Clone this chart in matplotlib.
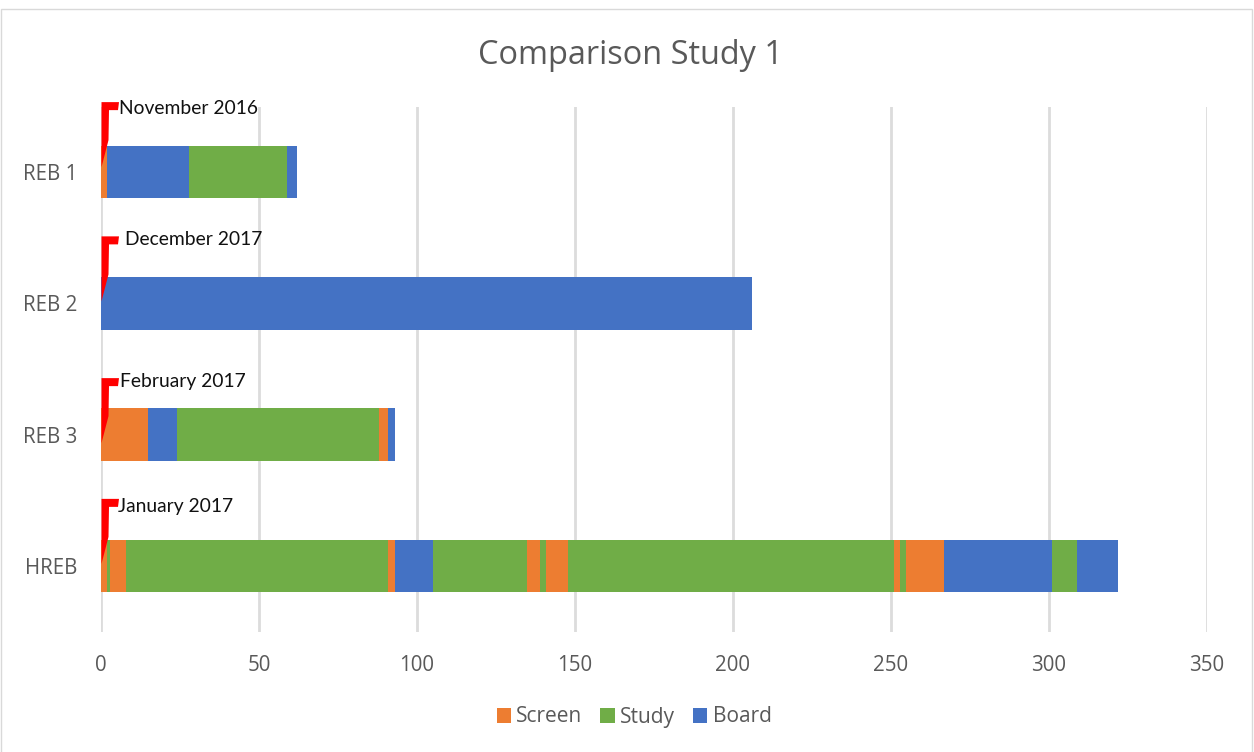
import matplotlib
matplotlib.use("Agg")
import matplotlib.pyplot as plt
from matplotlib.patches import Patch, Polygon, Rectangle
from matplotlib.transforms import Affine2D

W, H = 1254, 752

categories = ["REB 1", "REB 2", "REB 3", "HREB"]
start_labels = ["November 2016", "December 2017", "February 2017", "January 2017"]

# Consecutive phases for each board, with their durations in days
reb1_phases = ["Screen", "Board", "Study", "Board"]
reb1_days = [2, 26, 31, 3]
reb2_phases = ["Board"]
reb2_days = [206]
reb3_phases = ["Screen", "Board", "Study", "Screen", "Board"]
reb3_days = [15, 9, 64, 3, 2]
hreb_phases = ["Screen", "Study", "Screen", "Study", "Screen", "Board", "Study", "Screen",
               "Study", "Screen", "Study", "Screen", "Study", "Screen", "Board", "Study", "Board"]
hreb_days = [2, 1, 5, 83, 2, 12, 30, 4, 2, 7, 103, 2, 2, 12, 34, 8, 13]

phase_names = ["Screen", "Study", "Board"]
phase_colors = ["#ED7D31", "#70AD47", "#4472C4"]
x_ticks = [0, 50, 100, 150, 200, 250, 300, 350]

color_of = dict(zip(phase_names, phase_colors))
rows = [(reb1_phases, reb1_days), (reb2_phases, reb2_days),
        (reb3_phases, reb3_days), (hreb_phases, hreb_days)]

plt.rcParams["font.family"] = ["Open Sans", "DejaVu Sans"]
fig = plt.figure(figsize=(W / 100, H / 100), dpi=100)

# Chart frame
fig.add_artist(Rectangle((0.5 / W, -0.02), (W - 3) / W, 1 - 9 / H + 0.02, transform=fig.transFigure,
                         facecolor="white", edgecolor="#D9D9D9", linewidth=1, zorder=-1))

left, right, top, bottom = 101, 1206.5, 106.5, 631.5
ax = fig.add_axes([left / W, 1 - bottom / H, (right - left) / W, (bottom - top) / H])
ax.patch.set_alpha(0)
ax.set_xlim(0, 350)
ax.set_ylim(3.5, -0.5)

for spine in ax.spines.values():
    spine.set_visible(False)
ax.set_xticks(x_ticks)
ax.set_yticks(range(len(categories)), categories)
ax.tick_params(axis="both", length=0, labelcolor="#595959", labelsize=14.8)
ax.tick_params(axis="x", pad=17)
ax.tick_params(axis="y", pad=17)
ax.grid(axis="x", color="#DCDCDC", linewidth=2)
ax.set_axisbelow(True)

for row, (phases, days) in enumerate(rows):
    position = 0
    for phase, length in zip(phases, days):
        ax.barh(row, length, left=position, height=0.4, color=color_of[phase], linewidth=0)
        position += length

# Start-date flag: outline in pixels (y up) relative to the start of each bar
flag_outline = [(0.5, 70), (18, 70), (17, 62), (8, 62), (7.5, 32), (0.5, 5)]
flag_drops = [0, 3, 13.5, 3]
label_offsets = [(18, 64), (24, 64), (19, 53.5), (17, 59)]
for row, (label, drop, offset) in enumerate(zip(start_labels, flag_drops, label_offsets)):
    x0, y0 = ax.transData.transform((0, row))
    flag = Polygon(flag_outline, closed=True, facecolor="#FF0000", edgecolor="none",
                   transform=Affine2D().translate(x0, y0 - drop), zorder=5, clip_on=False)
    fig.add_artist(flag)
    ax.annotate(label, xy=(0, row), xytext=(offset[0] * 0.72, offset[1] * 0.72),
                textcoords="offset points", fontsize=13.9, family="Lato", color="#111111",
                va="center", ha="left", annotation_clip=False, zorder=6)

fig.text(630 / W, 1 - 55 / H, "Comparison Study 1", fontsize=23.4, color="#595959", ha="center", va="center")

handles = [Patch(facecolor=c, label=n) for n, c in zip(phase_names, phase_colors)]
fig.legend(handles=handles, loc="center", bbox_to_anchor=(634 / W, 1 - 717 / H), ncol=3, frameon=False,
           fontsize=15, labelcolor="#595959", handlelength=0.7, handleheight=0.7,
           handletextpad=0.25, columnspacing=0.85, borderpad=0)

fig.savefig("out.png", dpi=100)
